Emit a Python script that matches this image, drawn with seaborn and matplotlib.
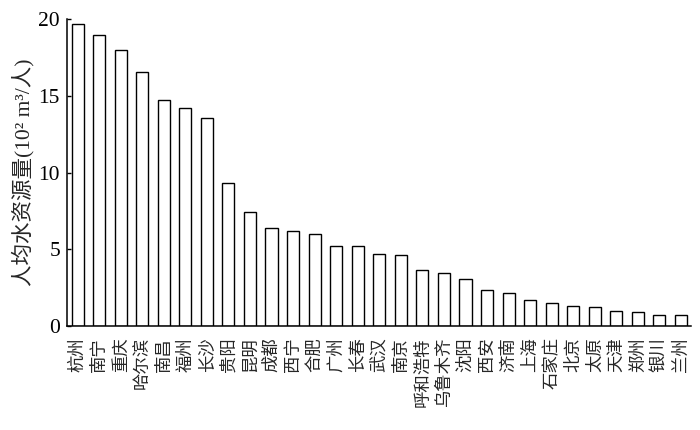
import seaborn as sns
from matplotlib import pyplot as plt
import pandas as pd

# per-capita water resources by city (10^2 m^3 per person)
cities = ['杭州', '南宁', '重庆', '哈尔滨', '南昌', '福州', '长沙', '贵阳', '昆明', '成都',
          '西宁', '合肥', '广州', '长春', '武汉', '南京', '呼和浩特', '乌鲁木齐', '沈阳', '西安',
          '济南', '上海', '石家庄', '北京', '太原', '天津', '郑州', '银川', '兰州']
water = [19.7, 19.0, 18.0, 16.6, 14.75, 14.2, 13.6, 9.35, 7.45, 6.4,
         6.2, 6.0, 5.2, 5.2, 4.7, 4.6, 3.67, 3.45, 3.05, 2.35,
         2.15, 1.7, 1.52, 1.33, 1.22, 1.0, 0.9, 0.72, 0.72]
y_ticks = [0, 5, 10, 15, 20]

df = pd.DataFrame({'city': cities, 'water': water})

sns.set_theme(style='white')
plt.rcParams['font.family'] = ['Liberation Serif', 'Noto Sans CJK SC']

fig = plt.figure(figsize=(7, 4.3), dpi=100)
ax = fig.add_axes([0.0957, 0.2419, 0.891, 0.7128])

sns.barplot(data=df, x='city', y='water', color='white', edgecolor='black',
            linewidth=1.0, width=0.56, saturation=1, ax=ax)

ax.set_xlim(-0.49, 28.45)
ax.set_ylim(0, 20)
ax.set_yticks(y_ticks)
ax.set_yticklabels([str(t) for t in y_ticks], fontsize=15.5)
ax.tick_params(axis='y', direction='in', length=3, width=1, left=True, pad=5, colors='black')
ax.tick_params(axis='x', length=0, pad=8)
for lbl in ax.get_xticklabels():
    lbl.set_rotation(90)
    lbl.set_fontsize(12.5)
    lbl.set_family(['Noto Sans CJK SC', 'DejaVu Sans'])
    lbl.set_va('top')

ax.set_xlabel('')
ax.set_ylabel('人均水资源量(10² m³/人)', fontsize=15.5, labelpad=3)

for side in ['top', 'right']:
    ax.spines[side].set_visible(False)
for side in ['left', 'bottom']:
    ax.spines[side].set_color('black')
    ax.spines[side].set_linewidth(1.1)

fig.savefig('out.png', dpi=100)
